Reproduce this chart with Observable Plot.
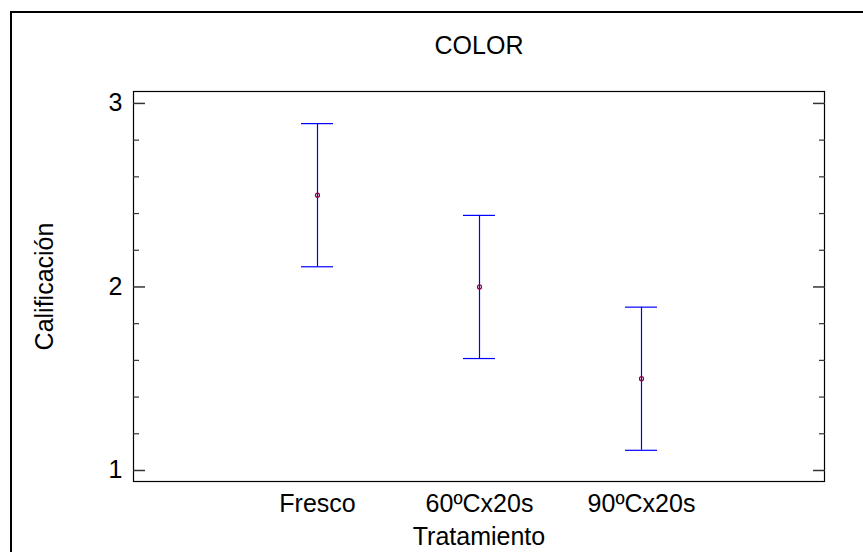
<!DOCTYPE html>
<html><head><meta charset="utf-8">
<script src="https://cdn.jsdelivr.net/npm/d3@7"></script>
<script src="https://cdn.jsdelivr.net/npm/@observablehq/plot@0.6"></script>
<style>
body{margin:0;background:#fff;}
#wrap{position:relative;width:863px;height:552px;overflow:hidden;background:#fff;font-family:"Liberation Sans",Arial,sans-serif;}
#border{position:absolute;left:10px;top:11px;width:900px;height:600px;border-top:2px solid #000;border-left:2px solid #000;}
#chart{position:absolute;left:0;top:0;}
</style></head><body>
<div id="wrap"><div id="border"></div><div id="chart"></div></div>
<script>
const title = "COLOR";
const xLabel = "Tratamiento";
const yLabel = "Calificación";
const treatments = ["Fresco", "60ºCx20s", "90ºCx20s"];
const means = [2.5, 2.0, 1.5];
const lower = [2.11, 1.61, 1.11];
const upper = [2.89, 2.39, 1.89];
const majorTicks = [1, 2, 3];
const minorTicks = [1.2, 1.4, 1.6, 1.8, 2.2, 2.4, 2.6, 2.8];

const data = treatments.map((t, i) => ({t, mean: means[i], lo: lower[i], hi: upper[i]}));
const font = "'Liberation Sans', Arial, sans-serif";

const chart = Plot.plot({
  width: 863, height: 552,
  marginLeft: 133, marginRight: 39, marginTop: 91, marginBottom: 71,
  style: {fontFamily: font, fontSize: "24px", background: "transparent", color: "#000", overflow: "visible"},
  x: {type: "band", domain: treatments, paddingInner: 0.803, paddingOuter: 1.0275, align: 0.5},
  y: {domain: [0.94, 3.065]},
  marks: [
    Plot.frame({stroke: "#000", strokeWidth: 1.2}),
    Plot.axisX({tickSize: 0, tickPadding: 13, fontSize: 25, label: null}),
    Plot.axisY(majorTicks, {anchor: "left", tickSize: 0, tickPadding: 11, fontSize: 25, label: null, tickFormat: d3.format("d")}),
    Plot.axisY(majorTicks, {anchor: "left", tickSize: -12, fill: "none", label: null, stroke: "#333", strokeWidth: 1.5}),
    Plot.axisY(minorTicks, {anchor: "left", tickSize: -6, fill: "none", label: null, stroke: "#333", strokeWidth: 1.2}),
    Plot.axisY(majorTicks, {anchor: "right", tickSize: -12, fill: "none", label: null, stroke: "#333", strokeWidth: 1.5}),
    Plot.axisY(minorTicks, {anchor: "right", tickSize: -6, fill: "none", label: null, stroke: "#333", strokeWidth: 1.2}),
    Plot.ruleX(data, {x: "t", y1: "lo", y2: "hi", stroke: "#0000ff", strokeWidth: 1.2}),
    Plot.tickY(data, {x: "t", y: "hi", stroke: "#0000ff", strokeWidth: 1.2}),
    Plot.tickY(data, {x: "t", y: "lo", stroke: "#0000ff", strokeWidth: 1.2}),
    Plot.dot(data, {x: "t", y: "mean", r: 2, stroke: "#8b0045", strokeWidth: 1.2, fill: "none"}),
    Plot.text([title], {text: d => d, frameAnchor: "top", textAnchor: "middle", dy: -55, fontSize: 25}),
    Plot.text([yLabel], {text: d => d, frameAnchor: "left", textAnchor: "middle", dx: -89, rotate: -90, fontSize: 25}),
    Plot.text([xLabel], {text: d => d, frameAnchor: "bottom", textAnchor: "middle", dy: 63, fontSize: 25})
  ]
});
document.getElementById("chart").appendChild(chart);
</script>
</body></html>
